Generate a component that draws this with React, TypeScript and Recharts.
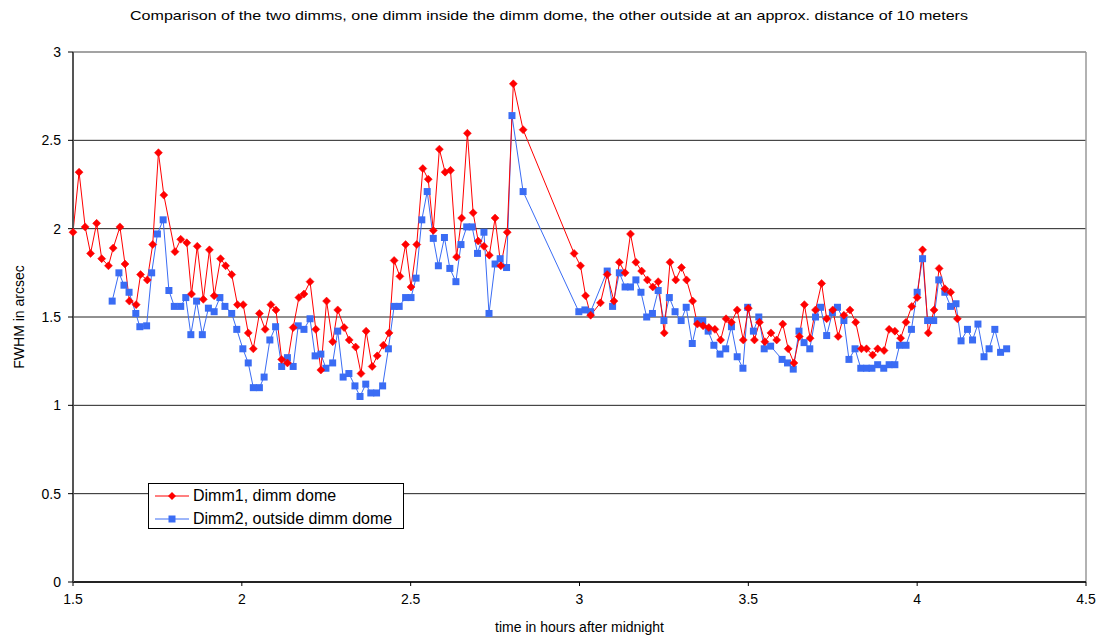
import React from "react";
import { LineChart, Line, XAxis, YAxis, CartesianGrid, ReferenceLine, Label } from "recharts";

const dimm1Times = [
  1.5, 1.518, 1.536, 1.552, 1.57, 1.585, 1.605, 1.619, 1.639, 1.654, 1.667, 1.687, 1.7, 1.72, 1.736, 1.753, 1.769,
  1.802, 1.819, 1.837, 1.851, 1.868, 1.886, 1.904, 1.918, 1.937, 1.952, 1.97, 1.987, 2.004, 2.019, 2.034, 2.052,
  2.069, 2.086, 2.101, 2.118, 2.135, 2.152, 2.169, 2.184, 2.202, 2.219, 2.234, 2.251, 2.269, 2.284, 2.303, 2.318,
  2.337, 2.353, 2.368, 2.386, 2.401, 2.419, 2.436, 2.451, 2.468, 2.485, 2.501, 2.518, 2.536, 2.552, 2.567, 2.585,
  2.602, 2.618, 2.636, 2.651, 2.668, 2.685, 2.7, 2.717, 2.733, 2.75, 2.767, 2.786, 2.804, 2.833, 2.984, 3.003,
  3.018, 3.033, 3.062, 3.082, 3.102, 3.118, 3.135, 3.151, 3.167, 3.184, 3.201, 3.217, 3.233, 3.251, 3.268, 3.285,
  3.302, 3.317, 3.335, 3.349, 3.366, 3.383, 3.401, 3.418, 3.434, 3.45, 3.467, 3.485, 3.5, 3.518, 3.533, 3.549,
  3.567, 3.584, 3.602, 3.618, 3.635, 3.651, 3.666, 3.683, 3.699, 3.717, 3.732, 3.75, 3.766, 3.783, 3.801, 3.818,
  3.835, 3.85, 3.868, 3.883, 3.902, 3.917, 3.934, 3.951, 3.967, 3.984, 4.0, 4.016, 4.033, 4.05, 4.065, 4.082,
  4.099, 4.119,
];
const dimm1Fwhm = [
  1.98, 2.32, 2.01, 1.86, 2.03, 1.83, 1.79, 1.89, 2.01, 1.8, 1.59, 1.57, 1.74, 1.71, 1.91, 2.43, 2.19,
  1.87, 1.94, 1.92, 1.63, 1.9, 1.6, 1.88, 1.62, 1.83, 1.79, 1.74, 1.57, 1.57, 1.41, 1.32, 1.52,
  1.43, 1.57, 1.54, 1.26, 1.24, 1.44, 1.61, 1.63, 1.7, 1.43, 1.2, 1.59, 1.36, 1.54, 1.44, 1.37,
  1.33, 1.18, 1.42, 1.22, 1.28, 1.34, 1.41, 1.82, 1.73, 1.91, 1.67, 1.91, 2.34, 2.28, 1.99, 2.45,
  2.32, 2.33, 1.84, 2.06, 2.54, 2.09, 1.93, 1.9, 1.85, 2.06, 1.79, 1.98, 2.82, 2.56, 1.86, 1.79,
  1.62, 1.51, 1.58, 1.74, 1.59, 1.81, 1.75, 1.97, 1.81, 1.76, 1.71, 1.67, 1.7, 1.41, 1.81, 1.71,
  1.78, 1.71, 1.59, 1.46, 1.45, 1.44, 1.43, 1.37, 1.49, 1.47, 1.54, 1.37, 1.55, 1.37, 1.47, 1.36,
  1.41, 1.37, 1.46, 1.32, 1.24, 1.39, 1.57, 1.38, 1.54, 1.69, 1.49, 1.54, 1.39, 1.51, 1.54, 1.47,
  1.32, 1.32, 1.285, 1.32, 1.31, 1.43, 1.42, 1.38, 1.47, 1.56, 1.61, 1.88, 1.41, 1.54, 1.775, 1.66,
  1.64, 1.49,
];

const dimm2Times = [
  1.616, 1.636, 1.651, 1.666, 1.686, 1.698, 1.718, 1.733, 1.75, 1.767, 1.784, 1.8, 1.819, 1.834, 1.849, 1.866,
  1.883, 1.901, 1.918, 1.935, 1.95, 1.97, 1.985, 2.003, 2.019, 2.034, 2.052, 2.066, 2.083, 2.1, 2.118, 2.135,
  2.152, 2.167, 2.184, 2.202, 2.217, 2.234, 2.249, 2.269, 2.284, 2.3, 2.317, 2.335, 2.35, 2.367, 2.382, 2.399,
  2.417, 2.434, 2.451, 2.466, 2.485, 2.501, 2.516, 2.533, 2.549, 2.567, 2.582, 2.6, 2.616, 2.634, 2.649, 2.666,
  2.682, 2.698, 2.717, 2.732, 2.75, 2.765, 2.784, 2.8, 2.833, 2.998, 3.016, 3.033, 3.082, 3.098, 3.118, 3.135,
  3.151, 3.167, 3.182, 3.199, 3.216, 3.233, 3.25, 3.266, 3.283, 3.301, 3.316, 3.334, 3.349, 3.365, 3.381, 3.398,
  3.416, 3.433, 3.45, 3.467, 3.484, 3.498, 3.515, 3.531, 3.547, 3.566, 3.6, 3.616, 3.633, 3.65, 3.665, 3.682,
  3.699, 3.714, 3.732, 3.749, 3.764, 3.783, 3.798, 3.816, 3.833, 3.85, 3.866, 3.883, 3.901, 3.917, 3.934, 3.948,
  3.967, 3.983, 4.0, 4.016, 4.031, 4.049, 4.064, 4.082, 4.099, 4.115, 4.13, 4.149, 4.164, 4.18, 4.198, 4.213,
  4.23, 4.247, 4.265,
];
const dimm2Fwhm = [
  1.59, 1.75, 1.68, 1.64, 1.52, 1.445, 1.45, 1.75, 1.97, 2.05, 1.65, 1.56, 1.56, 1.61, 1.4, 1.59,
  1.4, 1.55, 1.53, 1.61, 1.56, 1.52, 1.43, 1.32, 1.24, 1.1, 1.1, 1.16, 1.37, 1.445, 1.22, 1.27,
  1.22, 1.45, 1.43, 1.49, 1.28, 1.29, 1.21, 1.24, 1.42, 1.16, 1.18, 1.11, 1.05, 1.12, 1.07, 1.07,
  1.11, 1.32, 1.56, 1.56, 1.61, 1.61, 1.72, 2.05, 2.21, 1.945, 1.79, 1.95, 1.775, 1.7, 1.91, 2.01,
  2.01, 1.86, 1.98, 1.52, 1.8, 1.83, 1.78, 2.64, 2.21, 1.53, 1.54, 1.53, 1.76, 1.56, 1.75, 1.67,
  1.67, 1.71, 1.64, 1.5, 1.52, 1.65, 1.48, 1.61, 1.53, 1.48, 1.555, 1.35, 1.48, 1.48, 1.42, 1.34,
  1.29, 1.32, 1.445, 1.275, 1.21, 1.555, 1.42, 1.5, 1.32, 1.335, 1.26, 1.24, 1.205, 1.42, 1.355, 1.32,
  1.5, 1.555, 1.395, 1.525, 1.555, 1.48, 1.26, 1.32, 1.21, 1.21, 1.21, 1.23, 1.21, 1.23, 1.23, 1.34,
  1.34, 1.43, 1.64, 1.83, 1.48, 1.48, 1.71, 1.64, 1.56, 1.575, 1.365, 1.43, 1.37, 1.46, 1.275, 1.32,
  1.43, 1.3, 1.32,
];

const xTicks = [1.5, 2, 2.5, 3, 3.5, 4, 4.5];
const yTicks = [0, 0.5, 1, 1.5, 2, 2.5, 3];

const RED = "#ff0000";
const BLUE = "#3a6cf4";
const FONT = "'Liberation Sans', Arial, sans-serif";

const dimm1 = dimm1Times.map((t, i) => ({ t, v: dimm1Fwhm[i] }));
const dimm2 = dimm2Times.map((t, i) => ({ t, v: dimm2Fwhm[i] }));

const Diamond = (props: any) => {
  const { cx, cy, index } = props;
  if (cx == null || cy == null) return <g key={"d" + index} />;
  const r = 4;
  return (
    <polygon
      key={"d" + index}
      points={`${cx},${cy - r} ${cx + r},${cy} ${cx},${cy + r} ${cx - r},${cy}`}
      fill={RED}
      stroke={RED}
      strokeWidth={0.5}
    />
  );
};

const Square = (props: any) => {
  const { cx, cy, index } = props;
  if (cx == null || cy == null) return <g key={"s" + index} />;
  return <rect key={"s" + index} x={cx - 3.5} y={cy - 3.5} width={7} height={7} fill={BLUE} />;
};

const YLabel = () => (
  <text
    x={19}
    y={317}
    transform="rotate(-90, 19, 317)"
    textAnchor="middle"
    dominantBaseline="central"
    fontFamily={FONT}
    fontSize={14}
    fill="#000"
  >
    FWHM in arcsec
  </text>
);

const XLabel = () => (
  <text x={579.5} y={632} textAnchor="middle" fontFamily={FONT} fontSize={14} fill="#000">
    time in hours after midnight
  </text>
);

const legendItems = [
  { label: "Dimm1, dimm dome", color: RED, shape: "d" },
  { label: "Dimm2, outside dimm dome", color: BLUE, shape: "s" },
];

const LegendBox = () => (
  <div
    style={{
      position: "absolute",
      left: 148,
      top: 483,
      width: 254,
      height: 44,
      border: "1px solid #000",
      background: "#fff",
      fontFamily: FONT,
      fontSize: 16,
      color: "#000",
    }}
  >
    {legendItems.map((it, i) => (
      <div key={i} style={{ display: "flex", alignItems: "center", height: 23, marginTop: i === 0 ? 0 : 0 }}>
        <svg width={38} height={12} style={{ marginLeft: 5, flex: "none" }}>
          <line x1={1} y1={6} x2={35} y2={6} stroke={it.color} strokeWidth={1} />
          {it.shape === "d" ? (
            <polygon points="18,2 22,6 18,10 14,6" fill={it.color} />
          ) : (
            <rect x={14.5} y={2.5} width={7} height={7} fill={it.color} />
          )}
        </svg>
        <span style={{ marginLeft: 1, whiteSpace: "nowrap" }}>{it.label}</span>
      </div>
    ))}
  </div>
);

export default function App() {
  return (
    <div style={{ position: "fixed", left: 0, top: 0, width: 1099, height: 637, background: "#fff" }}>
      <LineChart
        width={1099}
        height={637}
        margin={{ top: 52, right: 13, bottom: 25, left: 0 }}
        style={{ fontFamily: FONT }}
      >
        <CartesianGrid horizontal={true} vertical={false} stroke="#222" strokeWidth={1} />
        <XAxis
          dataKey="t"
          type="number"
          domain={[1.5, 4.5]}
          ticks={xTicks}
          allowDuplicatedCategory={false}
          axisLine={{ stroke: "#000", strokeWidth: 1.5 }}
          tickLine={{ stroke: "#000" }}
          tickSize={4}
          tickMargin={8}
          height={30}
          tick={{ fill: "#000", fontSize: 14, fontFamily: FONT }}
          tickFormatter={(v: number) => String(v)}
        >
          <Label content={<XLabel />} />
        </XAxis>
        <YAxis
          type="number"
          domain={[0, 3]}
          ticks={yTicks}
          width={73}
          axisLine={{ stroke: "#555", strokeWidth: 2 }}
          tickLine={{ stroke: "#000" }}
          tickSize={5}
          tickMargin={7}
          tick={{ fill: "#000", fontSize: 14, fontFamily: FONT }}
        >
          <Label content={<YLabel />} />
        </YAxis>
        <ReferenceLine y={3} stroke="#aaa" strokeWidth={1.5} />
        <ReferenceLine x={4.5} stroke="#999" strokeWidth={1.5} />
        <Line
          data={dimm2}
          dataKey="v"
          name="Dimm2, outside dimm dome"
          stroke={BLUE}
          strokeWidth={1}
          dot={Square}
          activeDot={false}
          isAnimationActive={false}
        />
        <Line
          data={dimm1}
          dataKey="v"
          name="Dimm1, dimm dome"
          stroke={RED}
          strokeWidth={1}
          dot={Diamond}
          activeDot={false}
          isAnimationActive={false}
        />
      </LineChart>
      <svg width={1099} height={30} style={{ position: "absolute", left: 0, top: 0, pointerEvents: "none" }}>
        <text
          x={549}
          y={20}
          textAnchor="middle"
          fontFamily={FONT}
          fontSize={13}
          fill="#000"
          textLength={838}
          lengthAdjust="spacingAndGlyphs"
        >
          Comparison of the two dimms, one dimm inside the dimm dome, the other outside at an approx. distance of 10 meters
        </text>
      </svg>
      <LegendBox />
    </div>
  );
}
